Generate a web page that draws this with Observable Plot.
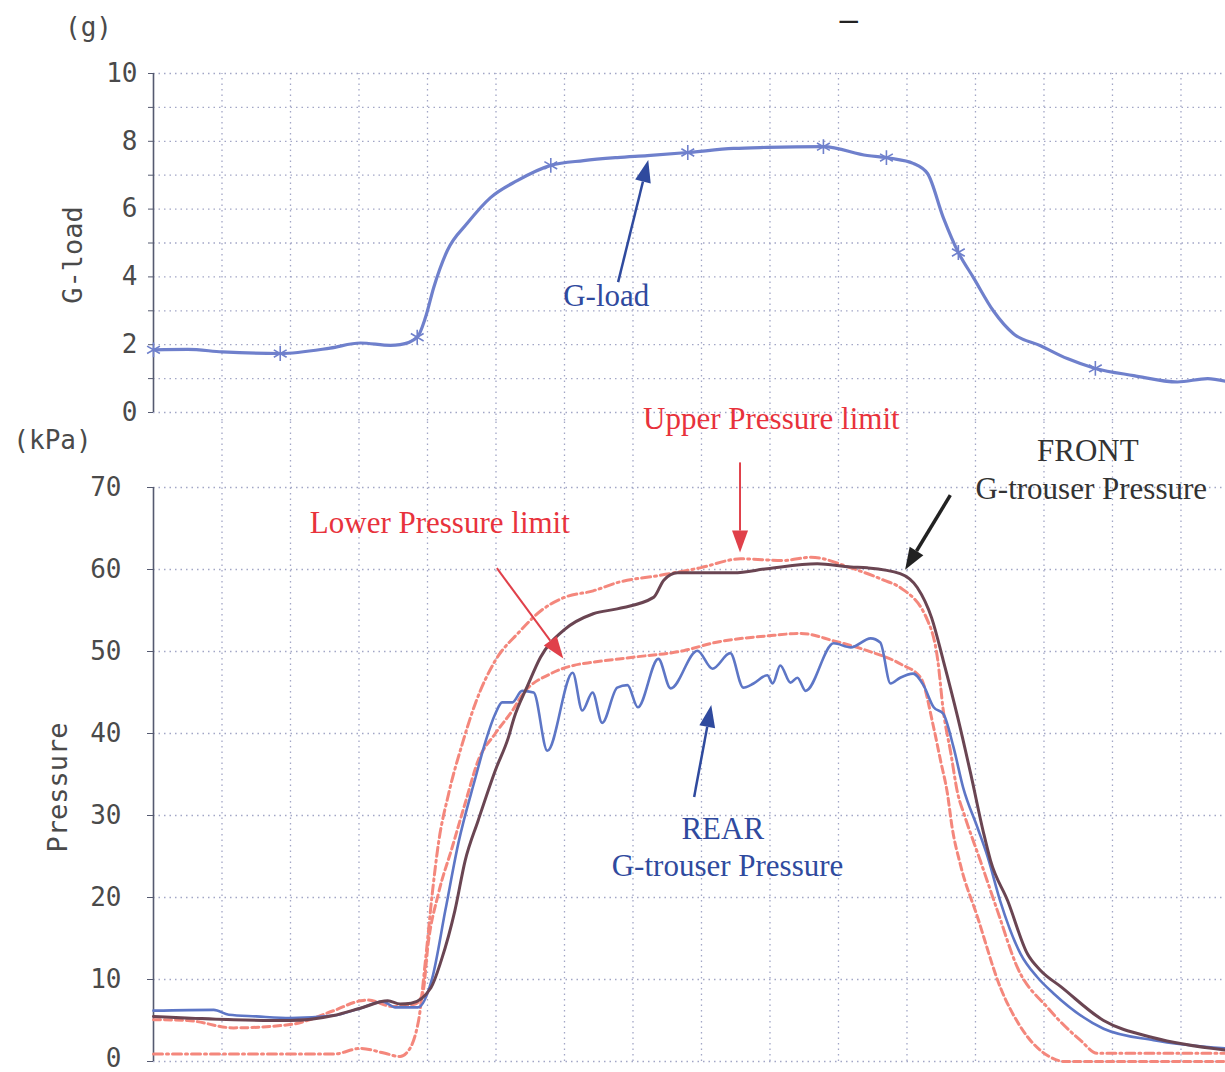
<!DOCTYPE html>
<html><head><meta charset="utf-8">
<script src="https://cdn.jsdelivr.net/npm/d3@7"></script>
<script src="https://cdn.jsdelivr.net/npm/@observablehq/plot@0.6"></script>
<style>
body{margin:0;background:#fff;}
#wrap{position:relative;width:1225px;height:1072px;overflow:hidden;background:#fff;}
#wrap svg{position:absolute;left:0;}
</style></head><body><div id="wrap"></div>
<script>
// ---- data (time in grid units, value) ----
const gload = [[0,1.85],[0.5,1.86],[1.0,1.79],[1.85,1.74],[2.58,1.9],[3.02,2.05],[3.46,1.98],[3.6,2.0],[3.85,2.22],[3.97,2.8],[4.09,3.68],[4.29,4.78],[4.58,5.58],[4.92,6.34],[5.31,6.84],[5.8,7.29],[6.28,7.43],[6.77,7.52],[7.21,7.58],[7.8,7.67],[8.47,7.79],[8.96,7.82],[9.78,7.84],[10.42,7.58],[10.76,7.5],[11.09,7.35],[11.3,7.05],[11.53,5.75],[11.75,4.72],[11.97,3.98],[12.26,3.0],[12.55,2.33],[12.95,1.97],[13.34,1.59],[13.75,1.3],[14.31,1.09],[14.95,0.9],[15.39,1.0],[15.65,0.92]];
const gloadMarkers = [[0,1.85],[1.85,1.74],[3.85,2.22],[5.8,7.29],[7.8,7.67],[9.78,7.84],[10.7,7.52],[11.75,4.72],[13.75,1.3]];
const front = [[0,5.5],[1.17,5.1],[1.99,5.0],[2.63,5.6],[3.02,6.5],[3.42,7.4],[3.6,7.0],[3.76,7.1],[4.05,9.0],[4.2,12.3],[4.4,18.4],[4.55,24.5],[4.74,29.4],[4.99,35.5],[5.18,39.5],[5.26,41.8],[5.46,45.8],[5.65,49.3],[5.99,52.6],[6.42,54.6],[6.77,55.2],[7.3,56.6],[7.45,58.7],[7.65,59.6],[8.47,59.6],[8.96,60.1],[9.69,60.7],[10.18,60.3],[10.42,60.2],[10.9,59.5],[11.15,57.8],[11.36,54.1],[11.53,48.9],[11.74,42.0],[11.93,35.1],[12.12,27.8],[12.22,24.5],[12.47,19.6],[12.76,13.1],[12.95,11.1],[13.25,9.1],[13.87,5.0],[14.6,2.9],[15.65,1.4]];
const rear = [[0,6.2],[0.88,6.3],[1.1,5.7],[1.5,5.5],[2.0,5.3],[2.63,5.6],[3.02,6.5],[3.35,7.3],[3.53,6.6],[3.86,6.6],[4.07,10.2],[4.26,18.4],[4.45,26.6],[4.7,34.6],[4.85,39.1],[4.99,42.4],[5.09,43.8],[5.24,43.8],[5.38,45.2],[5.55,45.0],[5.75,37.9],[6.12,47.4],[6.26,42.8],[6.41,45.0],[6.55,41.3],[6.77,45.6],[6.92,45.9],[7.07,43.2],[7.37,49.1],[7.55,45.5],[7.94,50.1],[8.16,47.9],[8.42,49.8],[8.61,45.6],[8.76,46.1],[8.96,47.1],[9.04,46.1],[9.15,48.3],[9.3,46.2],[9.4,46.8],[9.52,45.2],[9.93,51.0],[10.18,50.5],[10.47,51.6],[10.61,51.1],[10.76,46.1],[10.9,46.8],[11.09,47.3],[11.24,45.9],[11.39,43.2],[11.53,42.4],[11.68,38.3],[11.82,33.4],[12.03,28.5],[12.18,24.9],[12.36,19.6],[12.66,13.1],[12.9,10.3],[13.14,8.3],[13.87,4.0],[14.6,2.6],[15.65,1.6]];
const upperLimit = [[0,0.9],[1.0,0.9],[2.63,0.9],[3.02,1.6],[3.38,1.0],[3.6,0.6],[3.69,1.0],[3.87,5.0],[3.97,12.3],[4.07,20.5],[4.16,26.6],[4.31,32.7],[4.51,38.8],[4.7,43.7],[4.99,48.9],[5.33,52.3],[5.66,55.0],[6.0,56.6],[6.42,57.4],[6.77,58.4],[7.4,59.3],[7.98,60.2],[8.57,61.3],[9.2,61.1],[9.6,61.5],[10.18,60.2],[10.66,58.7],[10.9,57.8],[11.3,53.8],[11.45,48.9],[11.53,42.8],[11.64,37.6],[11.74,32.7],[11.84,30.0],[12.07,24.5],[12.32,18.4],[12.61,11.5],[13.05,6.6],[13.53,2.6],[13.78,1.0],[15.65,1.0]];
const lowerLimit = [[0,5.1],[0.5,5.0],[1.17,4.1],[1.99,4.5],[2.63,6.2],[3.02,7.4],[3.12,7.5],[3.5,6.7],[3.82,7.0],[3.93,8.3],[4.01,14.4],[4.16,20.5],[4.36,26.1],[4.55,31.5],[4.74,36.7],[4.99,40.0],[5.24,42.8],[5.4,44.9],[5.8,47.3],[6.13,48.3],[6.42,48.7],[7.0,49.3],[7.74,50.1],[8.2,51.1],[8.96,51.9],[9.45,52.2],[9.93,51.3],[10.42,50.1],[10.9,48.5],[11.2,46.8],[11.39,40.7],[11.49,36.7],[11.59,32.7],[11.66,28.5],[11.78,24.0],[12.03,17.6],[12.36,9.1],[12.66,4.2],[13.1,0.5],[13.3,0.0],[15.65,0.0]];
const gTicks = [0,1,2,3,4,5,6,7,8,9,10];
const gLabels = [0,2,4,6,8,10];
const pTicks = [0,10,20,30,40,50,60,70];
const timeGrid = [0,1,2,3,4,5,6,7,8,9,10,11,12,13,14,15];

// annotations (data units)
const topNotes = [{x:6.61,y:3.42,text:"G-load",color:"#2f4a9e"}];
const topArrows = [{x1:6.79,y1:3.83,x2:7.23,y2:7.43,color:"#2f4a9e",w:2.5}];
const bottomNotes = [
  {x:9.02,y:78.4,text:"Upper Pressure limit",color:"#e8323c"},
  {x:4.18,y:65.7,text:"Lower Pressure limit",color:"#e8323c"},
  {x:13.64,y:74.5,text:"FRONT",color:"#333333"},
  {x:13.69,y:69.8,text:"G-trouser Pressure",color:"#333333"},
  {x:8.31,y:28.4,text:"REAR",color:"#2f4a9e"},
  {x:8.38,y:23.8,text:"G-trouser Pressure",color:"#2f4a9e"}
];
const bottomArrows = [
  {x1:8.57,y1:73.0,x2:8.57,y2:62.0,color:"#e0404a",w:2},
  {x1:5.02,y1:60.1,x2:5.99,y2:49.1,color:"#e0404a",w:2},
  {x1:11.64,y1:69.0,x2:10.98,y2:59.9,color:"#222222",w:3.5},
  {x1:7.9,y1:32.2,x2:8.15,y2:43.4,color:"#2f4a9e",w:2.5}
];

const toObj = a => a.map(([t,v]) => ({t, v}));
const W = 1225, X0 = 0, X1 = 15.65;
const gridColor = "#a2a6c6";
const axisFont = "DejaVu Sans Mono";
const serif = "Liberation Serif";

function arrows(list) {
  return (index, scales) => {
    const g = d3.create("svg:g");
    for (const a of list) {
      const x1 = scales.x(a.x1), y1 = scales.y(a.y1), x2 = scales.x(a.x2), y2 = scales.y(a.y2);
      const ang = Math.atan2(y2 - y1, x2 - x1);
      const L = 22, H = 8;
      const bx = x2 - L * Math.cos(ang), by = y2 - L * Math.sin(ang);
      g.append("line").attr("x1", x1).attr("y1", y1).attr("x2", bx).attr("y2", by)
        .attr("stroke", a.color).attr("stroke-width", a.w);
      g.append("path")
        .attr("d", `M${x2},${y2}L${bx + H * Math.sin(ang)},${by - H * Math.cos(ang)}L${bx - H * Math.sin(ang)},${by + H * Math.cos(ang)}Z`)
        .attr("fill", a.color);
    }
    return g.node();
  };
}

// ---- top panel ----
const topPlot = Plot.plot({
  width: W, height: 425, marginTop: 73, marginBottom: 13, marginLeft: 153, marginRight: 0,
  style: {background: "transparent", overflow: "visible"},
  x: {domain: [X0, X1], axis: null},
  y: {domain: [0, 10], axis: null},
  marks: [
    Plot.ruleX(timeGrid.slice(1), {y1: -0.25, y2: 10, stroke: gridColor, strokeWidth: 1.3, strokeDasharray: "1.5,4"}),
    Plot.ruleY(gTicks, {x1: X0, x2: X1, stroke: gridColor, strokeWidth: 1.3, strokeDasharray: "1.5,4"}),
    Plot.ruleX([0], {y1: 0, y2: 10, stroke: "#555a70", strokeWidth: 1.6}),
    Plot.axisY(gTicks, {tickSize: 5, tickFormat: () => "", stroke: "#555a70"}),
    Plot.text(gLabels, {x: 0, y: d => d, text: d => String(d), dx: -16, textAnchor: "end", fontSize: 26, fontFamily: axisFont, fill: "#4a4a4a"}),
    Plot.text(["(g)"], {frameAnchor: "top-left", dx: -65, dy: -46, textAnchor: "middle", lineAnchor: "middle", fontSize: 26, fontFamily: axisFont, fill: "#4a4a4a"}),
    Plot.text(["G-load"], {frameAnchor: "left", rotate: -90, dx: -80, dy: 12, textAnchor: "middle", lineAnchor: "middle", fontSize: 27, fontFamily: axisFont, fill: "#4a4a4a"}),
    Plot.text(["—"], {x: 10.15, y: 11.55, fontSize: 20, fontWeight: "bold", fill: "#222"}),
    Plot.line(toObj(gload), {x: "t", y: "v", stroke: "#6f80cc", strokeWidth: 3.2, curve: "monotone-x"}),
    Plot.dot(toObj(gloadMarkers), {x: "t", y: "v", symbol: "asterisk", r: 7, stroke: "#6f80cc", strokeWidth: 1.6}),
    Plot.text(topNotes, {x: "x", y: "y", text: "text", fill: "color", fontSize: 31, fontFamily: serif}),
    arrows(topArrows)
  ]
});
topPlot.style.top = "0px";

// ---- bottom panel ----
const series = [
  {name: "Upper", data: upperLimit, stroke: "#f4877c", dash: "9,4,2,4", w: 3},
  {name: "Lower", data: lowerLimit, stroke: "#f4877c", dash: "7,4", w: 3},
  {name: "Rear", data: rear, stroke: "#5d76c6", dash: null, w: 2.6},
  {name: "Front", data: front, stroke: "#6a4552", dash: null, w: 3}
];
const labelStyle = {x: 0, y: d => d, text: d => String(d), dx: -32, textAnchor: "end", fontSize: 26, fontFamily: axisFont, fill: "#4a4a4a", letterSpacing: "1px"};
const bottomPlot = Plot.plot({
  width: W, height: 677, marginTop: 92, marginBottom: 11, marginLeft: 153, marginRight: 0,
  style: {background: "transparent", overflow: "visible"},
  x: {domain: [X0, X1], axis: null},
  y: {domain: [0, 70], axis: null},
  marks: [
    Plot.ruleX(timeGrid.slice(1), {y1: 0, y2: 78.5, stroke: gridColor, strokeWidth: 1.3, strokeDasharray: "1.5,4"}),
    Plot.ruleY(pTicks, {x1: X0, x2: X1, stroke: gridColor, strokeWidth: 1.3, strokeDasharray: "1.5,4"}),
    Plot.ruleX([0], {y1: 0, y2: 70, stroke: "#555a70", strokeWidth: 1.6}),
    Plot.axisY(pTicks, {tickSize: 6, tickFormat: () => "", stroke: "#555a70"}),
    Plot.text(pTicks.filter(d => d > 0), labelStyle),
    Plot.text(pTicks.filter(d => d === 0), {...labelStyle, dy: -3}),
    Plot.text(["(kPa)"], {frameAnchor: "top-left", dx: -101, dy: -47, textAnchor: "middle", lineAnchor: "middle", fontSize: 26, fontFamily: axisFont, fill: "#4a4a4a"}),
    Plot.text(["Pressure"], {frameAnchor: "left", rotate: -90, dx: -95, dy: 13, textAnchor: "middle", lineAnchor: "middle", fontSize: 27, fontFamily: axisFont, fill: "#4a4a4a"}),
    ...series.map(s => Plot.line(toObj(s.data), {x: "t", y: "v", stroke: s.stroke, strokeWidth: s.w, strokeDasharray: s.dash, curve: "monotone-x"})),
    Plot.text(bottomNotes, {x: "x", y: "y", text: "text", fill: "color", fontSize: 31, fontFamily: serif}),
    arrows(bottomArrows)
  ]
});
bottomPlot.style.top = "395px";

const wrap = document.getElementById("wrap");
wrap.appendChild(topPlot);
wrap.appendChild(bottomPlot);
</script>
</body></html>
